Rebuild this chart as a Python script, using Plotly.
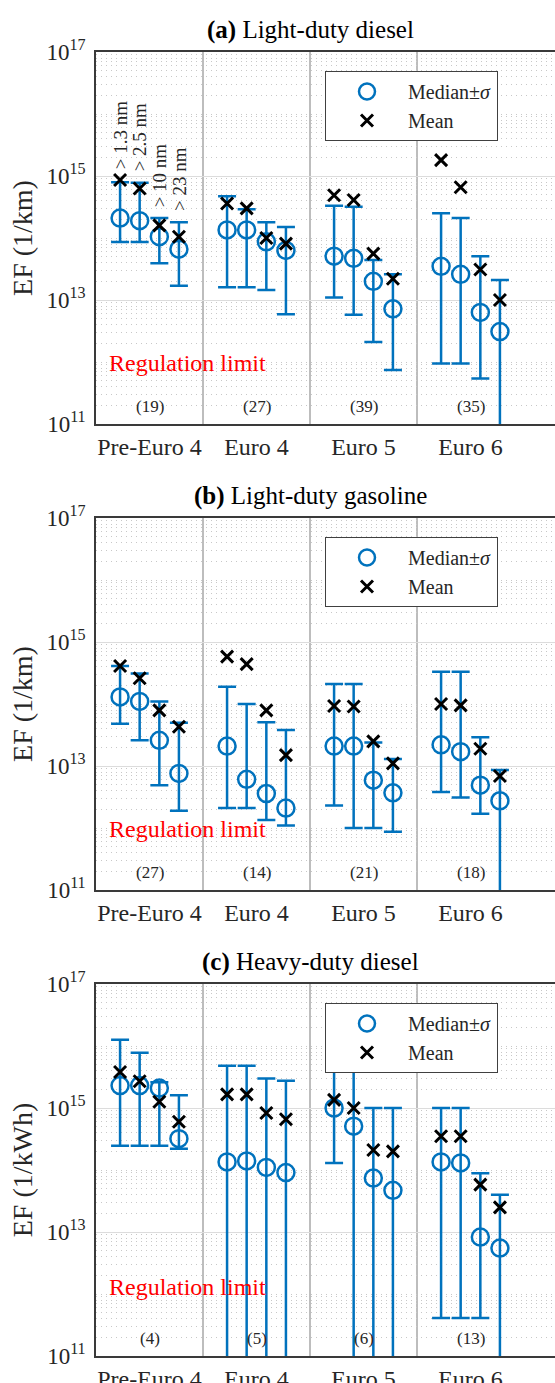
import numpy as np
import plotly.graph_objects as go

# ---------------- data ----------------
categories = ["Pre-Euro 4", "Euro 4", "Euro 5", "Euro 6"]
size_labels = ["> 1.3 nm", "> 2.5 nm", "> 10 nm", "> 23 nm"]
panel_titles = ["<b>(a)</b> Light-duty diesel",
                "<b>(b)</b> Light-duty gasoline",
                "<b>(c)</b> Heavy-duty diesel"]
y_titles = ["EF (1/km)", "EF (1/km)", "EF (1/kWh)"]
ytick_vals = [1e11, 1e13, 1e15, 1e17]
ytick_text = ["10<sup>11</sup>", "10<sup>13</sup>", "10<sup>15</sup>", "10<sup>17</sup>"]
regulation_limits = [6e11, 6e11, 8e11]

# order: for each category, sizes >1.3, >2.5, >10, >23 nm
# lower values of 1e9 = error bar extends below the axis
ldd_median = [2.1e14, 1.9e14, 1.05e14, 6.6e13, 1.35e14, 1.35e14, 8.7e13, 6.3e13,
              5.1e13, 4.7e13, 2.0e13, 7.2e12, 3.5e13, 2.6e13, 6.3e12, 3.1e12]
ldd_upper = [7.9e14, 7.8e14, 2.1e14, 1.8e14, 4.7e14, 2.9e14, 1.8e14, 1.5e14,
             3.3e14, 3.2e14, 4.4e13, 2.6e13, 2.5e14, 2.1e14, 5.1e13, 2.1e13]
ldd_lower = [8.6e13, 8.6e13, 3.9e13, 1.7e13, 1.6e13, 1.6e13, 1.45e13, 5.9e12,
             1.1e13, 5.8e12, 2.1e12, 7.4e11, 9.5e11, 9.5e11, 5.4e11, 1e9]
ldd_mean = [8.6e14, 6.3e14, 1.6e14, 1.05e14, 3.6e14, 3.0e14, 1.0e14, 8.1e13,
            4.9e14, 4.1e14, 5.6e13, 2.2e13, 1.8e15, 6.6e14, 3.1e13, 1.0e13]
ldd_counts = [19, 27, 39, 35]

ldg_median = [1.3e14, 1.1e14, 2.6e13, 7.6e12, 2.1e13, 6.1e12, 3.6e12, 2.1e12,
              2.1e13, 2.1e13, 5.9e12, 3.7e12, 2.2e13, 1.7e13, 4.9e12, 2.75e12]
ldg_upper = [4.1e14, 3.1e14, 1.1e14, 5.0e13, 1.9e14, 1.0e14, 5.1e13, 3.8e13,
             2.1e14, 2.1e14, 2.4e13, 1.3e13, 3.3e14, 3.3e14, 2.9e13, 8.6e12]
ldg_lower = [4.8e13, 2.6e13, 4.9e12, 1.9e12, 2.1e12, 2.1e12, 1.35e12, 1.1e12,
             2.3e12, 1.0e12, 1.0e12, 8.7e11, 3.8e12, 3.1e12, 1.7e12, 1e9]
ldg_mean = [4.1e14, 2.6e14, 7.9e13, 4.3e13, 5.8e14, 4.4e14, 7.9e13, 1.5e13,
            9.3e13, 9.1e13, 2.5e13, 1.1e13, 1.0e14, 9.5e13, 1.9e13, 6.9e12]
ldg_counts = [27, 14, 21, 18]

hdd_median = [2.3e15, 2.3e15, 2.1e15, 3.2e14, 1.35e14, 1.4e14, 1.1e14, 9.1e13,
              1.0e15, 5.1e14, 7.4e13, 4.7e13, 1.35e14, 1.3e14, 8.3e12, 5.5e12]
hdd_upper = [1.26e16, 7.8e15, 2.6e15, 1.6e15, 4.8e15, 4.8e15, 3.0e15, 2.75e15,
             4.9e15, 4.1e15, 1.0e15, 1.0e15, 1.0e15, 1.0e15, 8.9e13, 4.0e13]
hdd_lower = [2.45e14, 2.45e14, 2.45e14, 2.2e14, 1e9, 1e9, 1e9, 1e9,
             1.3e14, 1e9, 1e9, 1e9, 4.1e11, 4.1e11, 4.1e11, 1e9]
hdd_mean = [3.8e15, 2.7e15, 1.26e15, 6.0e14, 1.66e15, 1.66e15, 8.3e14, 6.6e14,
            1.35e15, 1.0e15, 2.1e14, 2.0e14, 3.5e14, 3.5e14, 5.8e13, 2.5e13]
hdd_counts = [4, 5, 6, 13]

panels = [
    (ldd_median, ldd_upper, ldd_lower, ldd_mean, ldd_counts),
    (ldg_median, ldg_upper, ldg_lower, ldg_mean, ldg_counts),
    (hdd_median, hdd_upper, hdd_lower, hdd_mean, hdd_counts),
]

# ---------------- layout constants ----------------
W, H = 555, 1383
PLOT_LEFT = 96
GROUP_PX = 107
PANEL_TOPS = [52, 518, 984]
PANEL_H = 372
size_offsets = [-0.275, -0.092, 0.092, 0.275]
x_range = [-0.5, -0.5 + (W - PLOT_LEFT) / GROUP_PX]

BLUE = "#0072BD"
FONT = "Liberation Serif"
TXT = "#262626"

minor_vals = [m * 10.0 ** k for k in range(11, 17) for m in range(1, 10)
              if not (m == 1 and k % 2 == 1)]

fig = go.Figure()
annotations = []
shapes = []

for p, (med, up, lo, mean, counts) in enumerate(panels):
    n = p + 1
    sfx = "" if n == 1 else str(n)
    xs = [g + off for g in range(len(categories)) for off in size_offsets]
    med = np.array(med)
    up = np.array(up)
    lo = np.array(lo)
    mean = np.array(mean)
    legend_id = "legend" + sfx

    fig.add_trace(go.Scatter(
        x=xs, y=med, mode="markers", name="Median\u00b1<i>\u03c3</i>",
        xaxis="x" + sfx, yaxis="y" + sfx, legend=legend_id,
        marker=dict(symbol="circle-open", size=17, color=BLUE,
                    line=dict(width=2.5, color=BLUE)),
        error_y=dict(type="data", symmetric=False, array=up - med,
                     arrayminus=med - lo, color=BLUE, thickness=2.5, width=9),
    ))
    fig.add_trace(go.Scatter(
        x=xs, y=mean, mode="markers", name="Mean",
        xaxis="x" + sfx, yaxis="y" + sfx, legend=legend_id,
        marker=dict(symbol="x-thin-open", size=12, color="black",
                    line=dict(width=3, color="black")),
    ))

    top = PANEL_TOPS[p]
    ydom = [1 - (top + PANEL_H) / H, 1 - top / H]
    fig.layout["xaxis" + sfx] = dict(
        domain=[PLOT_LEFT / W, 1], range=x_range, anchor="y" + sfx,
        automargin=False,
        tickmode="array", tickvals=list(range(len(categories))),
        ticktext=categories, showgrid=False, zeroline=False,
        showline=True, linecolor="#3a3a3a", linewidth=1.5, mirror=True,
        ticks="", ticklen=0, ticklabelstandoff=0,
        tickfont=dict(family=FONT, size=24, color=TXT),
    )
    fig.layout["yaxis" + sfx] = dict(
        domain=ydom, type="log", range=[11, 17], anchor="x" + sfx,
        automargin=False,
        tickmode="array", tickvals=ytick_vals, ticktext=ytick_text,
        showgrid=True, gridcolor="#dcdcdc", gridwidth=1,
        minor=dict(tickmode="array", tickvals=minor_vals, showgrid=True,
                   gridcolor="#c8c8c8", griddash="1px,4px", gridwidth=1,
                   ticks=""),
        zeroline=False, showline=True, linecolor="#3a3a3a", linewidth=1.5,
        mirror=False, ticks="", ticklabelstandoff=4,
        tickfont=dict(family=FONT, size=23, color=TXT),
        title=dict(text=y_titles[p], font=dict(family=FONT, size=28, color=TXT),
                   standoff=6),
    )
    fig.layout[legend_id] = dict(
        x=325 / W, xanchor="left", y=1 - (top + 19) / H, yanchor="top",
        bgcolor="white", bordercolor="#404040", borderwidth=1,
        font=dict(family=FONT, size=20, color=TXT), itemwidth=72,
        tracegroupgap=0,
    )

    # group separators
    for b in [0.5, 1.5, 2.5]:
        shapes.append(dict(type="line", xref="x" + sfx, yref="y" + sfx + " domain",
                           x0=b, x1=b, y0=0, y1=1, layer="below",
                           line=dict(color="#9a9a9a", width=1.3)))
    # regulation limit
    ylim = np.log10(regulation_limits[p])
    shapes.append(dict(type="line", xref="x" + sfx, yref="y" + sfx,
                       x0=x_range[0], x1=x_range[1], y0=ylim, y1=ylim,
                       layer="below", line=dict(color="#ff0000", width=1.3)))
    annotations.append(dict(
        text="Regulation limit", xref="x" + sfx, yref="y" + sfx,
        x=-0.5 + 11 / GROUP_PX, y=ylim,
        xanchor="left", yanchor="middle", yshift=13, showarrow=False,
        font=dict(family=FONT, size=24, color="#ff0000")))
    # counts
    for g, c in enumerate(counts):
        annotations.append(dict(
            text=f"({c})", xref="x" + sfx, yref="y" + sfx + " domain",
            x=g, y=18 / PANEL_H, xanchor="center", yanchor="middle",
            showarrow=False, font=dict(family=FONT, size=17, color=TXT)))
    # title
    annotations.append(dict(
        text=panel_titles[p], xref="paper", yref="paper",
        x=310 / W, y=1 - (top - 22) / H, xanchor="center", yanchor="middle",
        showarrow=False, font=dict(family=FONT, size=25, color="black")))

# particle size labels above the first group of panel (a)
for i, lab in enumerate(size_labels):
    ytop = max(ldd_upper[i], ldd_mean[i])
    annotations.append(dict(
        text=lab, xref="x", yref="y", x=size_offsets[i], y=np.log10(ytop),
        xanchor="center", yanchor="bottom", yshift=9, textangle=-90,
        showarrow=False, font=dict(family=FONT, size=19, color=TXT)))

fig.update_layout(
    width=W, height=H, margin=dict(l=0, r=0, t=0, b=0, autoexpand=False),
    paper_bgcolor="white", plot_bgcolor="white",
    annotations=annotations, shapes=shapes, showlegend=True,
    font=dict(family=FONT, color=TXT),
)

fig.write_html("out.html")
